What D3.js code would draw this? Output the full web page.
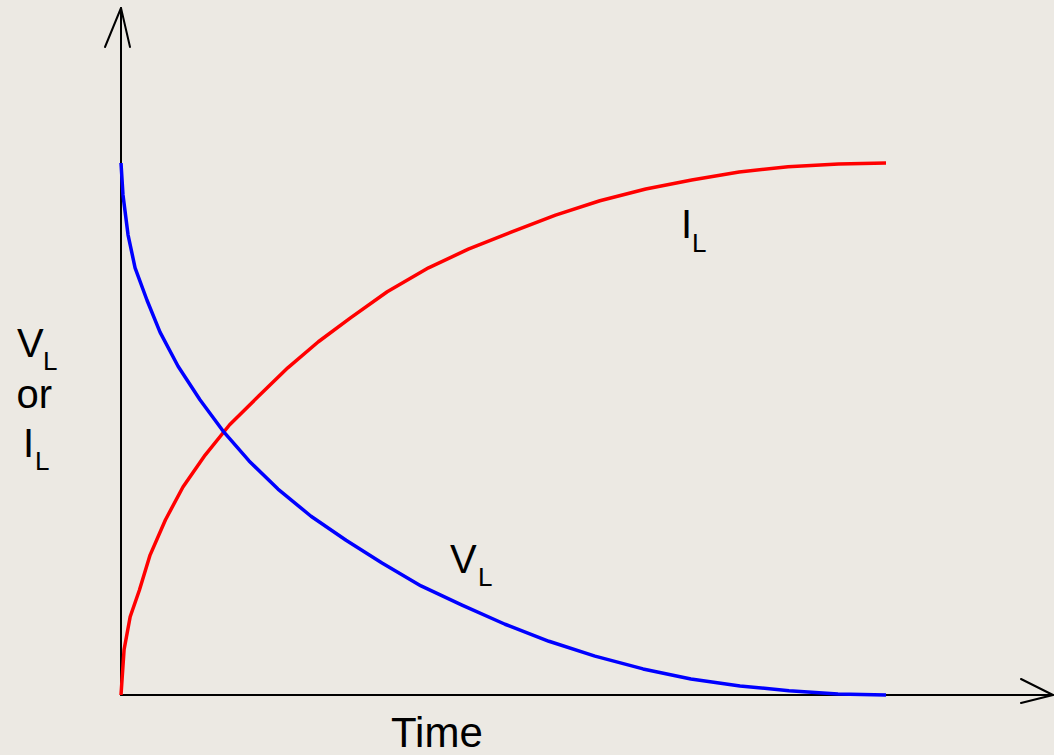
<!DOCTYPE html>
<html>
<head>
<meta charset="utf-8">
<script src="https://cdn.jsdelivr.net/npm/d3@7"></script>
<style>
  html, body { margin: 0; padding: 0; background: #ECE9E3; }
  svg { display: block; }
  text { font-family: "Liberation Sans", Arial, sans-serif; fill: #000; }
</style>
</head>
<body>
<svg id="chart" width="1054" height="755"></svg>
<script>
// Time in units of the time constant, values as a fraction of the maximum
const currentTime = [0, 0.02, 0.06, 0.12, 0.19, 0.29, 0.405, 0.55, 0.71, 0.90, 1.09, 1.29, 1.50, 1.74, 2.01, 2.27, 2.55, 2.84, 3.13, 3.43, 3.73, 4.04, 4.36, 4.69, 5.00];
const currentValues = [0, 0.085, 0.147, 0.197, 0.263, 0.329, 0.391, 0.451, 0.508, 0.562, 0.615, 0.664, 0.709, 0.758, 0.803, 0.838, 0.870, 0.902, 0.929, 0.951, 0.968, 0.983, 0.993, 0.998, 1.0];
const voltageTime = [0, 0.013, 0.046, 0.092, 0.17, 0.255, 0.373, 0.516, 0.673, 0.837, 1.026, 1.242, 1.471, 1.706, 1.961, 2.229, 2.510, 2.797, 3.098, 3.412, 3.725, 4.046, 4.366, 4.686, 5.0];
const voltageValues = [1, 0.940, 0.865, 0.803, 0.742, 0.682, 0.618, 0.555, 0.494, 0.440, 0.387, 0.336, 0.291, 0.248, 0.205, 0.169, 0.133, 0.101, 0.073, 0.049, 0.030, 0.017, 0.008, 0.002, 0];
const xAxisLabel = "Time";

const svg = d3.select("#chart");
const x = d3.scaleLinear().domain([0, 5]).range([121, 886]);
const y = d3.scaleLinear().domain([0, 1]).range([695, 163]);

const x0 = x(0), y0 = y(0);

// Axes
const axes = svg.append("g").attr("stroke", "#000").attr("stroke-width", 2).attr("fill", "none")
  .attr("stroke-linecap", "round").attr("stroke-linejoin", "round");
axes.append("line").attr("x1", x0).attr("y1", y0).attr("x2", x0).attr("y2", 8);
axes.append("polyline").attr("points", `${x0 - 16},47 ${x0},8 ${x0 + 9},47`);
axes.append("line").attr("x1", x0).attr("y1", y0).attr("x2", 1053).attr("y2", y0);
axes.append("polyline").attr("points", `1021,${y0 - 16} 1053,${y0} 1021,${y0 + 8}`);

const line = d3.line().x(d => x(d[0])).y(d => y(d[1])).curve(d3.curveLinear);

svg.append("path")
  .datum(d3.zip(currentTime, currentValues))
  .attr("d", line).attr("fill", "none").attr("stroke", "#FF0000")
  .attr("stroke-width", 3.5).attr("stroke-linejoin", "round");

svg.append("path")
  .datum(d3.zip(voltageTime, voltageValues))
  .attr("d", line).attr("fill", "none").attr("stroke", "#0000FF")
  .attr("stroke-width", 3.5).attr("stroke-linejoin", "round");

function label(xp, yp, txt, size) {
  svg.append("text").attr("x", xp).attr("y", yp).attr("font-size", size).text(txt);
}

// y-axis label
label(17, 357, "V", 40);
label(43, 370, "L", 26);
label(16.5, 408, "or", 40);
label(23, 457, "I", 40);
label(35, 470, "L", 26);

// curve labels
label(681, 238, "I", 40);
label(692, 252, "L", 26);
label(450, 573, "V", 40);
label(478, 586, "L", 26);

// x-axis label
label(391, 747, xAxisLabel, 42);
</script>
</body>
</html>
